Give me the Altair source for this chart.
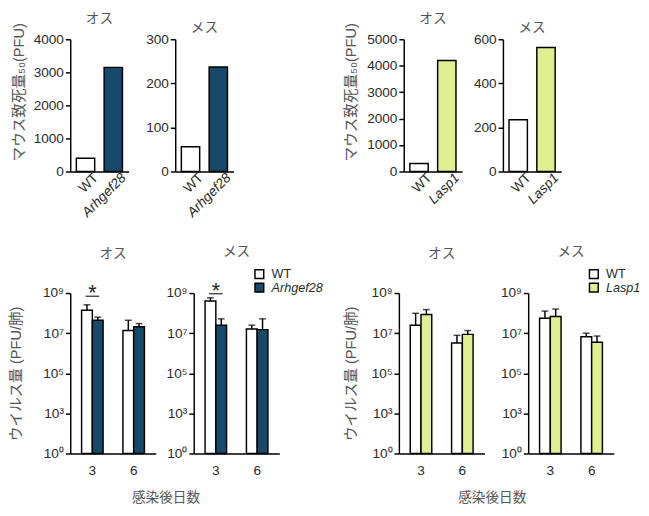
import altair as alt
import pandas as pd

LATIN = "Liberation Sans"
NARROW = "Liberation Sans Narrow, Liberation Sans"
MIXED = "Liberation Sans, Noto Sans CJK JP"
TITLE_COLOR = "#555555"
LABEL_COLOR = "#2a2a2a"

gene_a = "Arhgef28"
gene_b = "Lasp1"
color_a = "#174a6a"
color_b = "#e2ef91"
sex_labels = ["オス", "メス"]
ld50_title = "マウス致死量₅₀(PFU)"
virus_title = "ウイルス量 (PFU/肺)"
day_title = "感染後日数"

# ---- LD50 (top row) ----
ld50_groups_a = ["WT", gene_a]
ld50_groups_b = ["WT", gene_b]
ld50_a_male = [400, 3150]
ld50_a_female = [56, 237]
ld50_b_male = [300, 4200]
ld50_b_female = [235, 563]
ld50_ticks_a_male = [0, 1000, 2000, 3000, 4000]
ld50_ticks_a_female = [0, 100, 200, 300]
ld50_ticks_b_male = [0, 1000, 2000, 3000, 4000, 5000]
ld50_ticks_b_female = [0, 200, 400, 600]

# ---- virus titre (bottom row) ----
virus_days = ["3", "3", "6", "6"]
virus_groups_a = ["WT", gene_a, "WT", gene_a]
virus_groups_b = ["WT", gene_b, "WT", gene_b]
virus_a_male_mean = [1.4e8, 4.4e7, 1.35e7, 2.1e7]
virus_a_male_upper = [2.6e8, 6.3e7, 4.4e7, 3.0e7]
virus_a_female_mean = [4.0e8, 2.5e7, 1.6e7, 1.5e7]
virus_a_female_upper = [5.8e8, 5.2e7, 2.5e7, 5.2e7]
virus_b_male_mean = [2.5e7, 8.5e7, 3.2e6, 8.7e6]
virus_b_male_upper = [9.8e7, 1.5e8, 7.8e6, 1.35e7]
virus_b_female_mean = [5.5e7, 6.8e7, 6.6e6, 3.5e6]
virus_b_female_upper = [1.26e8, 1.6e8, 1.0e7, 7.2e6]
sig_a_male_day = ["3"]
sig_a_male_y = [6.9e8]
sig_a_female_day = ["3"]
sig_a_female_y = [9.3e8]
virus_tick_exp = [0, 3, 5, 7, 9]

ITALIC_EXPR = {"expr": "datum.value == 'WT' ? 'normal' : 'italic'"}


def chart_title(text, offset):
    return alt.TitleParams(text, font=MIXED, fontSize=14, color=TITLE_COLOR,
                           fontWeight="normal", offset=offset, anchor="middle",
                           frame="group")


def ld50_panel(groups, values, ticks, color, sex, ytitle, title_x, title_y):
    df = pd.DataFrame({"group": groups, "value": values})
    if ytitle:
        yaxis = alt.Axis(values=ticks, format="d", title=ld50_title, titleX=title_x,
                         titleY=title_y, titleBaseline="middle")
    else:
        yaxis = alt.Axis(values=ticks, format="d", title=None)
    return alt.Chart(df).mark_bar(stroke="black", strokeWidth=1.5).encode(
        x=alt.X("group:N", sort=groups,
                scale=alt.Scale(paddingInner=0.34, paddingOuter=0.22),
                axis=alt.Axis(title=None, labelAngle=-45, ticks=False, labelPadding=-1,
                              labelOffset=6, labelFontStyle=ITALIC_EXPR)),
        y=alt.Y("value:Q", scale=alt.Scale(domain=[0, ticks[-1]], nice=False),
                axis=yaxis),
        fill=alt.Fill("group:N", scale=alt.Scale(domain=groups, range=["white", color]),
                      legend=None),
    ).properties(width=60, height=136, title=chart_title(sex, -3))


def virus_panel(groups, means, uppers, color, sex, ytitle, title_x, legend,
                title_offset, sig_day=None, sig_y=None):
    df = pd.DataFrame({"day": virus_days, "group": groups, "mean": means, "upper": uppers})
    pair = groups[:2]
    base = alt.Chart(df).transform_calculate(
        lm="log(datum.mean) / LN10", lu="log(datum.upper) / LN10")
    yscale = alt.Scale(domain=[0, 3, 9], range=[165, 123.75, 0], nice=False, zero=False)
    label_expr = ("datum.value == 0 ? '10⁰' : datum.value == 3 ? '10³' : "
                  "datum.value == 5 ? '10⁵' : datum.value == 7 ? '10⁷' : '10⁹'")
    if ytitle:
        yaxis = alt.Axis(values=virus_tick_exp, labelExpr=label_expr, title=virus_title,
                         titleX=title_x, titleBaseline="middle")
    else:
        yaxis = alt.Axis(values=virus_tick_exp, labelExpr=label_expr, title=None)
    x = alt.X("day:N", scale=alt.Scale(paddingInner=0.48, paddingOuter=0.275),
              axis=alt.Axis(title=None, ticks=False, labelAngle=0, labelPadding=11))
    xo = alt.XOffset("group:N", sort=pair, scale=alt.Scale(paddingInner=0, paddingOuter=0))
    if legend:
        leg = alt.Legend(title=None, orient="none", legendX=61, legendY=-26,
                         symbolType="square", symbolSize=81, symbolStrokeColor="black",
                         symbolStrokeWidth=1.5, labelFont=LATIN, labelFontSize=13,
                         labelColor=LABEL_COLOR, labelFontStyle=ITALIC_EXPR,
                         rowPadding=-3, padding=0, labelOffset=6)
    else:
        leg = None
    bars = base.mark_bar(stroke="black", strokeWidth=1.5).encode(
        x=x, xOffset=xo,
        y=alt.Y("lm:Q", scale=yscale, axis=yaxis),
        fill=alt.Fill("group:N", scale=alt.Scale(domain=pair, range=["white", color]),
                      legend=leg),
    )
    err = base.mark_rule(color="black", strokeWidth=1.5).encode(
        x=x, xOffset=xo, y=alt.Y("lm:Q", scale=yscale), y2="lu:Q")
    cap = base.mark_tick(color="black", thickness=1.5, size=7).encode(
        x=x, xOffset=xo, y=alt.Y("lu:Q", scale=yscale))
    layers = [err, cap, bars]
    if sig_day is not None:
        sdf = pd.DataFrame({"day": sig_day, "y": sig_y})
        sbase = alt.Chart(sdf).transform_calculate(ls="log(datum.y) / LN10")
        line = sbase.mark_tick(color="black", thickness=1.5, size=14).encode(
            x=x, y=alt.Y("ls:Q", scale=yscale))
        star = sbase.mark_text(text="*", font=LATIN, fontSize=22, baseline="alphabetic",
                               dy=4, color="#222222").encode(
            x=x, y=alt.Y("ls:Q", scale=yscale))
        layers += [line, star]
    return alt.layer(*layers).properties(
        width=88, height=165, title=chart_title(sex, title_offset))


def indep(ch):
    return ch.resolve_scale(fill="independent", x="independent", y="independent",
                            xOffset="independent").resolve_legend(fill="independent")


t1 = ld50_panel(ld50_groups_a, ld50_a_male, ld50_ticks_a_male, color_a, sex_labels[0],
                True, -53, 54)
t2 = ld50_panel(ld50_groups_a, ld50_a_female, ld50_ticks_a_female, color_a, sex_labels[1],
                False, 0, 0)
t3 = ld50_panel(ld50_groups_b, ld50_b_male, ld50_ticks_b_male, color_b, sex_labels[0],
                True, -55, 54)
t4 = ld50_panel(ld50_groups_b, ld50_b_female, ld50_ticks_b_female, color_b, sex_labels[1],
                False, 0, 0)

b1 = virus_panel(virus_groups_a, virus_a_male_mean, virus_a_male_upper, color_a,
                 sex_labels[0], True, -56, False, 22, sig_a_male_day, sig_a_male_y)
b2 = virus_panel(virus_groups_a, virus_a_female_mean, virus_a_female_upper, color_a,
                 sex_labels[1], False, 0, True, 9, sig_a_female_day, sig_a_female_y)
b3 = virus_panel(virus_groups_b, virus_b_male_mean, virus_b_male_upper, color_b,
                 sex_labels[0], True, -50, False, 26)
b4 = virus_panel(virus_groups_b, virus_b_female_mean, virus_b_female_upper, color_b,
                 sex_labels[1], False, 0, True, 9)

day_t = alt.TitleParams(day_title, orient="bottom", font=MIXED, fontSize=14,
                        color=TITLE_COLOR, fontWeight="normal", offset=14,
                        anchor="middle")

top_a = indep(alt.hconcat(t1, t2, spacing=48, bounds="flush"))
top_b = indep(alt.hconcat(t3, t4, spacing=42, bounds="flush"))
bot_a = indep(alt.hconcat(b1, b2, spacing=39, bounds="flush").properties(title=day_t))
bot_b = indep(alt.hconcat(b3, b4, spacing=45, bounds="flush").properties(title=day_t))

top_row = indep(alt.hconcat(top_a, top_b, spacing=112))
bot_row = indep(alt.hconcat(bot_a, bot_b, spacing=20))

chart = indep(alt.vconcat(top_row, bot_row, spacing=26)).properties(
    padding={"left": 0, "top": -4, "right": 0, "bottom": 0}
).configure_view(stroke=None).configure_axis(
    grid=False, domainColor="black", domainWidth=1.5, tickColor="black", tickWidth=1.5,
    tickSize=5, labelFont=NARROW, labelFontSize=14, labelColor=LABEL_COLOR,
    titleFont=MIXED, titleFontSize=15, titleColor=TITLE_COLOR, titleFontWeight="normal",
)

chart.save("out.html", embed_options={"renderer": "svg", "actions": False})
